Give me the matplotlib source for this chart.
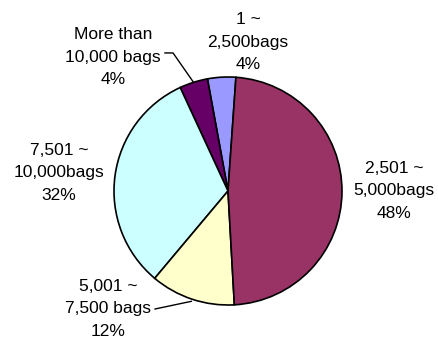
import numpy as np
import matplotlib.pyplot as plt

# slices in counter-clockwise order starting just left of 12 o'clock
labels = ['1 ~\n2,500bags\n4%',
          'More than\n10,000 bags\n4%',
          '7,501 ~\n10,000bags\n32%',
          '5,001 ~\n7,500 bags\n12%',
          '2,501 ~\n5,000bags\n48%']
shares = [4, 4, 32, 12, 48]
colors = ['#9999FF', '#660066', '#CCFFFF', '#FFFFCC', '#993366']

# label centres (data units, pie radius = 1)
label_pos = [(0.175, 1.307), (-1.009, 1.175), (-1.482, 0.158),
             (-1.053, -1.035), (1.456, 0.0)]

plt.rcParams['font.family'] = ['Liberation Sans', 'DejaVu Sans']

fig = plt.figure(figsize=(4.39, 3.42), dpi=100)
ax = fig.add_axes([0, 0, 1, 1])
wedges, _ = ax.pie(shares, colors=colors, startangle=86, counterclock=True,
                   radius=1, center=(0, 0),
                   wedgeprops=dict(edgecolor='black', linewidth=1.2))

for lab, (x, y) in zip(labels, label_pos):
    ax.text(x, y, lab, ha='center', va='center', fontsize=12.5,
            linespacing=1.6, color='black')

def edge_point(w):
    mid = np.deg2rad((w.theta1 + w.theta2) / 2)
    return np.cos(mid), np.sin(mid)

# leader lines
ex, ey = edge_point(wedges[1])
ax.plot([-0.553, -0.482, ex], [1.211, 1.211, ey], color='black', lw=1.0)
ex, ey = edge_point(wedges[3])
ax.plot([-0.640, ex * 1.02], [-1.035, ey * 1.02], color='black', lw=1.0)

ax.set_xlim(-228 / 114, 211 / 114)
ax.set_ylim(-151 / 114, 191 / 114)
ax.set_aspect('equal')
ax.axis('off')

fig.savefig('out.png', dpi=100)
